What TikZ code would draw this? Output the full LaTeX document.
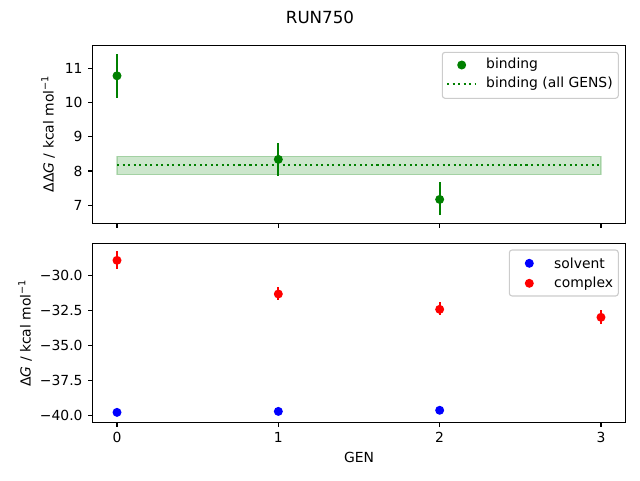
\documentclass[tikz,border=0pt]{standalone}
\usepackage{fontspec}
\setmainfont{DejaVu Sans}
\usetikzlibrary{positioning}

\definecolor{mplgreen}{HTML}{008000}
\definecolor{mplblue}{HTML}{0000FF}
\definecolor{mplred}{HTML}{FF0000}
\definecolor{legendedge}{HTML}{CCCCCC}

\newcommand{\kcal}{kcal mol\textsuperscript{−1}}

\begin{document}
\begin{tikzpicture}[x=1pt, y=1pt, font=\fontsize{13.9}{16}\selectfont,
	spine/.style = {line width=1.1pt},
	tick/.style = {line width=1.1pt},
	dot/.style = {circle, inner sep=0pt, minimum size=9pt},
	err/.style = {line width=2.1pt},
	legendbox/.style = {draw=legendedge, fill=white, line width=1.1pt, rounded corners=2.8pt},
	ticklab/.style = {inner sep=4.86pt}] 
	\useasboundingbox (0,0) rectangle (640,-480);
	\node[font=\fontsize{16.7}{20}\selectfont] (title) at (320,-17) {RUN750};

	\begin{scope}[shift={(117pt,-445pt)}, x=161.33pt, y=34.25pt]
		\filldraw[mplgreen, opacity=0.2, line width=1.4pt] (0,7.89) rectangle (3,8.43);
		\draw[mplgreen, line width=2.08pt, dash pattern=on 2.08pt off 3.44pt] (0,8.175) -- (3,8.175);
		\draw[err, mplgreen] (0,10.14) -- (0,11.42);
		\node[dot, fill=mplgreen] (bind0) at (0,10.78) {};
		\draw[err, mplgreen] (1,7.86) -- (1,8.81);
		\node[dot, fill=mplgreen] (bind1) at (1,8.34) {};
		\draw[err, mplgreen] (2,6.71) -- (2,7.67);
		\node[dot, fill=mplgreen] (bind2) at (2,7.17) {};
		\draw[spine] (-0.15,6.48) rectangle (3.15,11.67);
		\foreach \v in {7,...,11}
			\draw[tick] (-0.15,\v) -- ++(-4.86pt,0) node[ticklab, anchor=east] (ytop\v) {\v};
		\foreach \g in {0,...,3}
			\draw[tick] (\g,6.48) -- ++(0,-4.86pt);
	\end{scope}

	\begin{scope}[shift={(117pt,143.1pt)}, x=161.33pt, y=13.96pt]
		\draw[err, mplred] (0,-29.5) -- (0,-28.23);
		\node[dot, fill=mplred] (cplx0) at (0,-28.9) {};
		\draw[err, mplred] (1,-31.74) -- (1,-30.83);
		\node[dot, fill=mplred] (cplx1) at (1,-31.31) {};
		\draw[err, mplred] (2,-32.8) -- (2,-31.88);
		\node[dot, fill=mplred] (cplx2) at (2,-32.41) {};
		\draw[err, mplred] (3,-33.46) -- (3,-32.46);
		\node[dot, fill=mplred] (cplx3) at (3,-32.98) {};
		\node[dot, fill=mplblue] (solv0) at (0,-39.79) {};
		\node[dot, fill=mplblue] (solv1) at (1,-39.72) {};
		\node[dot, fill=mplblue] (solv2) at (2,-39.64) {};
		\draw[spine] (-0.15,-40.5) rectangle (3.15,-27.71);
		\foreach \v/\t [count=\i] in {-40/−40.0,-37.5/−37.5,-35/−35.0,-32.5/−32.5,-30/−30.0}
			\draw[tick] (-0.15,\v) -- ++(-4.86pt,0) node[ticklab, anchor=east] (ybot\i) {\t};
		\foreach \g in {0,...,3}
			\draw[tick] (\g,-40.5) -- ++(0,-4.86pt) node[ticklab, anchor=north] (xt\g) {\g};
	\end{scope}

	\node (gen) at (359,-457) {GEN};
	\node[rotate=90] (ylabtop) at (48,-134) {ΔΔ{\itshape G} / \kcal};
	\node[rotate=90] (ylabbot) at (25,-333) {Δ{\itshape G} / \kcal};

	\draw[legendbox] (442.3,-52.3) rectangle (618.3,-98.3);
	\node[dot, fill=mplgreen] (legbind) at (461.7,-65) {};
	\node[anchor=west, inner sep=0pt] (legbindtxt) at (486,-65) {binding};
	\draw[mplgreen, line width=2.08pt, dash pattern=on 2.08pt off 3.44pt] (447,-83.7) -- (475,-83.7);
	\node[anchor=west, inner sep=0pt] (legalltxt) at (486,-83.7) {binding (all GENS)};

	\draw[legendbox] (509.3,-250) rectangle (618.3,-296);
	\node[dot, fill=mplblue] (legsolv) at (529.3,-263.3) {};
	\node[anchor=west, inner sep=0pt] (legsolvtxt) at (554,-263.3) {solvent};
	\node[dot, fill=mplred] (legcplx) at (529.3,-283.3) {};
	\node[anchor=west, inner sep=0pt] (legcplxtxt) at (554,-283.3) {complex};
\end{tikzpicture}
\end{document}
